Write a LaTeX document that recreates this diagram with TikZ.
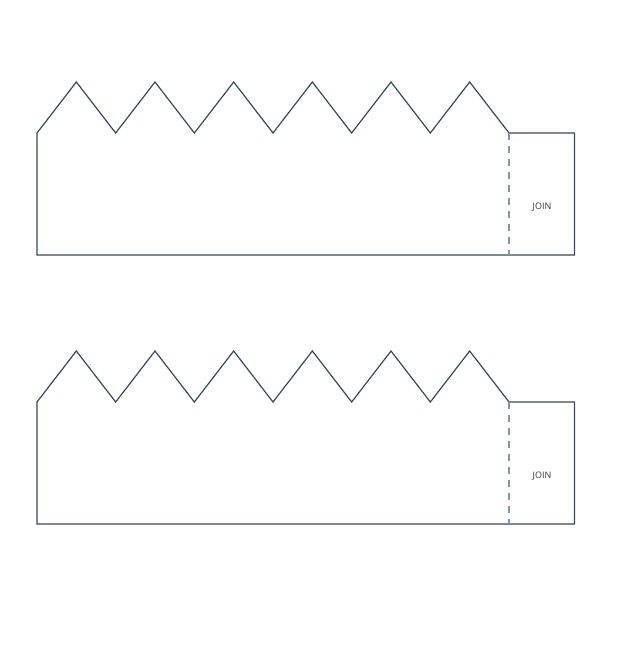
\documentclass[tikz,border=0pt]{standalone}
\usepackage{fontspec}
\setmainfont{Open Sans}
\definecolor{outline}{HTML}{34495E}
\definecolor{foldline}{HTML}{7F97AB}
\definecolor{labeltext}{HTML}{333333}
\tikzset{
  crownline/.style={draw=outline, line width=1.2pt, line join=miter},
  foldcut/.style={draw=foldline, line width=1.1pt, dash pattern=on 7pt off 6pt},
  joinlabel/.style={font=\fontsize{9}{11}\selectfont, text=labeltext, inner sep=0pt}
}
\begin{document}
\begin{tikzpicture}[x=1pt,y=-1pt]
\useasboundingbox (0,0) rectangle (637,660);
\foreach \dy/\nm in {0/a,269/b}{
  \begin{scope}[yshift=-\dy pt]
    \coordinate (\nm-bl) at (37,255);
    \coordinate (\nm-tl) at (37,133);
    \coordinate (\nm-fold) at (509,133);
    \coordinate (\nm-foldb) at (509,255);
    \coordinate (\nm-tr) at (574.5,133);
    \coordinate (\nm-br) at (574.5,255);
    \draw[crownline] (\nm-foldb) -- (\nm-bl) -- (\nm-tl)
      -- (76.33,82) -- (115.67,133) -- (155,82) -- (194.33,133)
      -- (233.67,82) -- (273,133) -- (312.33,82) -- (351.67,133)
      -- (391,82) -- (430.33,133) -- (469.67,82) -- (\nm-fold)
      -- (\nm-tr) -- (\nm-br) -- (\nm-foldb);
    \draw[foldcut] (\nm-fold) -- (\nm-foldb);
    \node[joinlabel] (\nm-join) at (542,207.5) {JOIN};
  \end{scope}
}
\end{tikzpicture}
\end{document}
